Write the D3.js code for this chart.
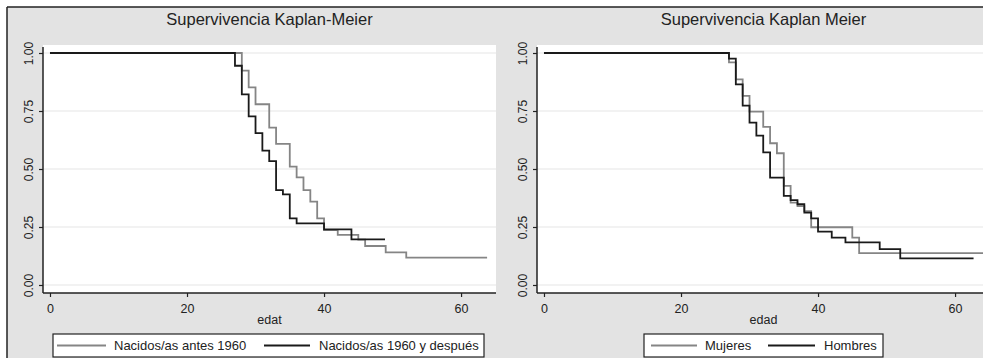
<!DOCTYPE html>
<html>
<head>
<meta charset="utf-8">
<script src="https://cdn.jsdelivr.net/npm/d3@7"></script>
<style>
  body { margin: 0; background: #fff; }
  svg { display: block; font-family: "Liberation Sans", Arial, sans-serif; }
</style>
</head>
<body>
<svg id="chart" width="983" height="358"></svg>
<script>
// tick values
const xTicks = [0, 20, 40, 60];
const yTicks = [0, 0.25, 0.5, 0.75, 1];

// left panel: birth cohort
const antesTimes = [0, 28, 29, 30, 32, 33, 35, 36, 37, 38, 39, 40, 42, 45, 46, 49, 52, 63.8];
const antesSurv  = [1, 0.924, 0.852, 0.779, 0.678, 0.608, 0.510, 0.464, 0.409, 0.359, 0.287, 0.237, 0.216, 0.196, 0.168, 0.141, 0.118, 0.118];
const despuesTimes = [0, 27, 28, 29, 30, 31, 32, 33, 34, 35, 36, 40, 44, 48.9];
const despuesSurv  = [1, 0.945, 0.822, 0.727, 0.655, 0.579, 0.534, 0.409, 0.391, 0.287, 0.266, 0.240, 0.197, 0.197];

// right panel: sex
const mujeresTimes = [0, 27, 28, 29, 30, 32, 33, 34, 35, 36, 37, 38, 39, 45, 46, 64.5];
const mujeresSurv  = [1, 0.960, 0.886, 0.815, 0.747, 0.682, 0.611, 0.568, 0.427, 0.355, 0.340, 0.318, 0.249, 0.204, 0.137, 0.137];
const hombresTimes = [0, 27, 28, 29, 30, 31, 32, 33, 35, 36, 37, 38, 39, 40, 42, 44, 49, 52, 62.7];
const hombresSurv  = [1, 0.976, 0.865, 0.773, 0.700, 0.644, 0.572, 0.463, 0.384, 0.366, 0.348, 0.312, 0.287, 0.230, 0.204, 0.184, 0.155, 0.115, 0.115];

const lightColor = '#858585';
const darkColor = '#1a1a1a';

const svg = d3.select('#chart');

// grey background with frame
svg.append('rect').attr('x', 7).attr('y', 7).attr('width', 983).attr('height', 360).attr('fill', '#e3e3e3');
svg.append('line').attr('x1', 7).attr('x2', 983).attr('y1', 7).attr('y2', 7).attr('stroke', '#222').attr('stroke-width', 1.5);
svg.append('line').attr('x1', 7).attr('x2', 7).attr('y1', 7).attr('y2', 358).attr('stroke', '#222').attr('stroke-width', 1.5);

function toPoints(times, surv) {
    return times.map((t, i) => ({ t: t, s: surv[i] }));
}

function drawPanel(opts) {
    const left = opts.left;
    const width = 453;
    const top = 45, bottom = 293;

    const x = d3.scaleLinear().domain([-1.02, 65.1]).range([left, left + width]);
    const y = d3.scaleLinear().domain([-0.0345, 1.0345]).range([bottom, top]);

    const g = svg.append('g');

    // plot region
    g.append('rect')
        .attr('x', left).attr('y', top)
        .attr('width', width).attr('height', bottom - top)
        .attr('fill', '#fff');

    // grid
    g.selectAll('.grid')
        .data(yTicks)
        .enter()
        .append('line')
        .attr('x1', left).attr('x2', left + width)
        .attr('y1', d => y(d)).attr('y2', d => y(d))
        .attr('stroke', '#e6e6e6')
        .attr('stroke-width', 1.2);

    // title
    g.append('text')
        .attr('x', left + width / 2)
        .attr('y', 25)
        .attr('text-anchor', 'middle')
        .attr('font-size', 16.5)
        .attr('fill', '#222')
        .text(opts.title);

    // curves
    const line = d3.line()
        .x(d => x(d.t))
        .y(d => y(d.s))
        .curve(d3.curveStepAfter);

    opts.series.forEach(sr => {
        g.append('path')
            .datum(toPoints(sr.times, sr.surv))
            .attr('d', line)
            .attr('fill', 'none')
            .attr('stroke', sr.color)
            .attr('stroke-width', 1.8);
    });

    // axes
    const yAxis = g.append('g').attr('transform', `translate(${left},0)`)
        .call(d3.axisLeft(y).tickValues(yTicks).tickSize(4).tickFormat(d3.format('.2f')));
    yAxis.select('.domain').remove();
    yAxis.append('line')
        .attr('x1', 0).attr('x2', 0).attr('y1', top + 2).attr('y2', bottom)
        .attr('stroke', '#222').attr('stroke-width', 1.5);
    yAxis.selectAll('.tick line').attr('stroke', '#222').attr('stroke-width', 1.2);
    yAxis.selectAll('.tick text')
        .attr('x', null).attr('dy', null)
        .attr('transform', 'translate(-10,0) rotate(-90)')
        .attr('text-anchor', 'middle')
        .attr('font-size', 12)
        .attr('font-family', '"Liberation Sans", Arial, sans-serif')
        .attr('fill', '#222');

    const xAxis = g.append('g').attr('transform', `translate(0,${bottom})`)
        .call(d3.axisBottom(x).tickValues(xTicks).tickSize(4));
    xAxis.select('.domain').remove();
    xAxis.append('line')
        .attr('x1', left).attr('x2', left + width).attr('y1', 0).attr('y2', 0)
        .attr('stroke', '#222').attr('stroke-width', 1.5);
    xAxis.selectAll('.tick line').attr('stroke', '#222').attr('stroke-width', 1.2);
    xAxis.selectAll('.tick text')
        .attr('y', 20).attr('dy', null)
        .attr('font-size', 12.5)
        .attr('font-family', '"Liberation Sans", Arial, sans-serif')
        .attr('fill', '#222');

    g.append('text')
        .attr('x', left + width / 2)
        .attr('y', 324)
        .attr('text-anchor', 'middle')
        .attr('font-size', 12.5)
        .attr('fill', '#222')
        .text(opts.xLabel);

    // legend
    const lg = opts.legend;
    g.append('rect')
        .attr('x', lg.x).attr('y', 334)
        .attr('width', lg.w).attr('height', 23)
        .attr('fill', '#fff')
        .attr('stroke', '#222').attr('stroke-width', 1.2);
    opts.series.forEach((sr, i) => {
        const it = lg.items[i];
        g.append('line')
            .attr('x1', it.lx).attr('x2', it.lx + it.lw)
            .attr('y1', 345.5).attr('y2', 345.5)
            .attr('stroke', sr.color).attr('stroke-width', 1.8);
        g.append('text')
            .attr('x', it.tx).attr('y', 350)
            .attr('font-size', 13)
            .attr('fill', '#222')
            .text(sr.name);
    });
}

drawPanel({
    left: 43,
    title: 'Supervivencia Kaplan-Meier',
    xLabel: 'edat',
    series: [
        { name: 'Nacidos/as antes 1960', times: antesTimes, surv: antesSurv, color: lightColor },
        { name: 'Nacidos/as 1960 y después', times: despuesTimes, surv: despuesSurv, color: darkColor }
    ],
    legend: { x: 53, w: 431, items: [{ lx: 57, lw: 49, tx: 114 }, { lx: 264, lw: 46, tx: 319 }] }
});

drawPanel({
    left: 537,
    title: 'Supervivencia Kaplan Meier',
    xLabel: 'edad',
    series: [
        { name: 'Mujeres', times: mujeresTimes, surv: mujeresSurv, color: lightColor },
        { name: 'Hombres', times: hombresTimes, surv: hombresSurv, color: darkColor }
    ],
    legend: { x: 644, w: 239, items: [{ lx: 651, lw: 46, tx: 705 }, { lx: 768, lw: 47, tx: 824 }] }
});
</script>
</body>
</html>
